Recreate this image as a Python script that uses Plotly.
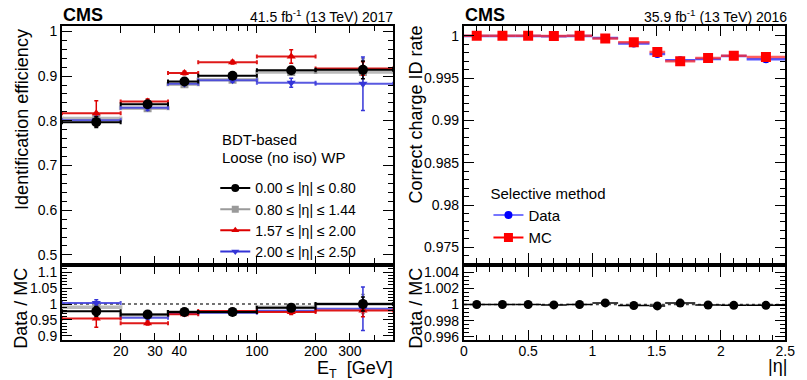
import math
import plotly.graph_objects as go

# ---------------- data ----------------
et_edges = [10, 20, 35, 50, 100, 200, 500]
et_centers = [15, 27.5, 42.5, 75, 150, 350]

eta_labels = ["0.00 ≤ |η| ≤ 0.80", "0.80 ≤ |η| ≤ 1.44",
              "1.57 ≤ |η| ≤ 2.00", "2.00 ≤ |η| ≤ 2.50"]

eff_eta1 = [0.797, 0.837, 0.888, 0.901, 0.913, 0.914]
eff_eta1_err = [0.012, 0.006, 0.004, 0.003, 0.005, 0.020]
eff_eta2 = [0.805, 0.828, 0.882, 0.892, 0.909, 0.909]
eff_eta2_err = [0.008, 0.005, 0.004, 0.004, 0.005, 0.030]
eff_eta3 = [0.817, 0.843, 0.907, 0.931, 0.944, 0.917]
eff_eta3_err = [0.028, 0.006, 0.004, 0.004, 0.015, 0.015]
eff_eta4 = [0.801, 0.829, 0.883, 0.891, 0.885, 0.883]
eff_eta4_err = [0.010, 0.006, 0.004, 0.005, 0.010, 0.060]

sf_eta1 = [0.977, 0.967, 0.975, 0.975, 0.988, 1.000]
sf_eta1_err = [0.015, 0.005, 0.004, 0.004, 0.006, 0.022]
sf_eta2 = [0.990, 0.966, 0.975, 0.975, 0.990, 1.000]
sf_eta2_err = [0.010, 0.005, 0.004, 0.004, 0.006, 0.030]
sf_eta3 = [0.955, 0.940, 0.968, 0.978, 0.975, 0.980]
sf_eta3_err = [0.028, 0.006, 0.005, 0.005, 0.008, 0.020]
sf_eta4 = [1.003, 0.957, 0.970, 0.973, 0.979, 0.985]
sf_eta4_err = [0.010, 0.006, 0.005, 0.006, 0.010, 0.068]

eta_edges = [0, 0.2, 0.4, 0.6, 0.8, 1.0, 1.2, 1.444, 1.566, 1.8, 2.0, 2.2, 2.5]
cid_mc = [1.0, 1.0, 1.0, 0.99998, 1.0, 0.99969, 0.99925, 0.99808, 0.99700,
          0.99737, 0.99764, 0.99749]
cid_data = [0.99998, 0.99998, 0.99998, 0.99994, 0.99997, 0.99975, 0.99910,
            0.99785, 0.99712, 0.99725, 0.99760, 0.99722]
cid_err = [0.00002, 0.00002, 0.00002, 0.00002, 0.00002, 0.00003, 0.00004,
           0.00008, 0.00006, 0.00005, 0.00005, 0.00005]
cid_ratio = [1.0, 1.0, 1.0, 0.99996, 1.0, 1.0002, 0.99988, 0.99983, 1.00018,
             0.99995, 0.9999, 0.9999]

# ---------------- helpers ----------------
FONT = "Liberation Sans, Arial, sans-serif"
W, H = 807, 380


def px_x(p):
    return p / W


def px_y(p):
    return 1 - p / H


et_lo = [c - lo for c, lo in zip(et_centers, et_edges[:-1])]
et_hi = [hi - c for c, hi in zip(et_centers, et_edges[1:])]
eta_centers = [(a + b) / 2 for a, b in zip(eta_edges[:-1], eta_edges[1:])]
eta_half = [(b - a) / 2 for a, b in zip(eta_edges[:-1], eta_edges[1:])]

fig = go.Figure()


def add_series(x, y, err, xlo, xhi, color, bincolor, thick, symbol, size,
               xa, ya):
    fig.add_trace(go.Scatter(
        x=x, y=y, mode="markers", xaxis=xa, yaxis=ya, showlegend=False,
        marker=dict(symbol=symbol, size=size, color=color),
        error_x=dict(type="data", symmetric=False, array=xhi, arrayminus=xlo,
                     color=bincolor, thickness=thick, width=2),
        error_y=dict(type="data", array=err, color=color, thickness=1.5,
                     width=2),
        hoverinfo="skip"))


series = [
    (eff_eta2, eff_eta2_err, sf_eta2, sf_eta2_err, "#9a9a9a",
     "rgba(140,140,140,0.6)", 3.5, "square", 8),
    (eff_eta4, eff_eta4_err, sf_eta4, sf_eta4_err, "#3535d8",
     "rgba(60,60,220,0.85)", 2, "triangle-down", 8),
    (eff_eta3, eff_eta3_err, sf_eta3, sf_eta3_err, "#dd0000",
     "rgba(220,0,0,0.9)", 2, "triangle-up", 8),
    (eff_eta1, eff_eta1_err, sf_eta1, sf_eta1_err, "black",
     "black", 2, "circle", 10),
]
for eff, eerr, sf, serr, col, bcol, th, sym, sz in series:
    add_series(et_centers, eff, eerr, et_lo, et_hi, col, bcol, th, sym, sz,
               "x", "y")
    add_series(et_centers, sf, serr, et_lo, et_hi, col, bcol, th, sym, sz,
               "x2", "y2")

# legend entries (left)
leg_left = [
    (eta_labels[0], "black", "circle", 8),
    (eta_labels[1], "#9a9a9a", "square", 7),
    (eta_labels[2], "#dd0000", "triangle-up", 7),
    (eta_labels[3], "#3535d8", "triangle-down", 7),
]
for name, col, sym, sz in leg_left:
    fig.add_trace(go.Scatter(
        x=[None], y=[None], mode="lines+markers", name=name, xaxis="x",
        yaxis="y", legend="legend", line=dict(color=col, width=2),
        marker=dict(symbol=sym, size=sz, color=col)))

# right panel
fig.add_trace(go.Scatter(
    x=eta_centers, y=cid_data, mode="markers", xaxis="x3", yaxis="y3",
    showlegend=False, marker=dict(symbol="circle", size=8, color="#0000ff"),
    error_x=dict(type="data", array=eta_half, color="rgba(40,40,255,0.8)",
                 thickness=2.5, width=0),
    error_y=dict(type="data", array=cid_err, color="#0000ff", thickness=1.5,
                 width=0),
    hoverinfo="skip"))
fig.add_trace(go.Scatter(
    x=eta_centers, y=cid_mc, mode="markers", xaxis="x3", yaxis="y3",
    showlegend=False, marker=dict(symbol="square", size=10, color="#ff0000"),
    error_x=dict(type="data", array=eta_half, color="rgba(255,40,40,0.75)",
                 thickness=2.5, width=0),
    error_y=dict(type="data", array=cid_err, color="#ff0000", thickness=1.5,
                 width=0),
    hoverinfo="skip"))
fig.add_trace(go.Scatter(
    x=eta_centers, y=cid_ratio, mode="markers", xaxis="x4", yaxis="y4",
    showlegend=False, marker=dict(symbol="circle", size=9, color="black"),
    error_x=dict(type="data", array=eta_half, color="black", thickness=1.5,
                 width=0),
    hoverinfo="skip"))

fig.add_trace(go.Scatter(
    x=[None], y=[None], mode="lines+markers", name="Data", xaxis="x3",
    yaxis="y3", legend="legend2", line=dict(color="rgba(60,60,255,0.7)", width=2),
    marker=dict(symbol="circle", size=8, color="#0000ff")))
fig.add_trace(go.Scatter(
    x=[None], y=[None], mode="lines+markers", name="MC", xaxis="x3",
    yaxis="y3", legend="legend2", line=dict(color="#ff0000", width=2),
    marker=dict(symbol="square", size=9, color="#ff0000")))

# ---------------- axes ----------------
LX = [px_x(59), px_x(396)]
RX = [px_x(468), px_x(795)]
TOPY = [px_y(266), px_y(24)]
BOTY = [px_y(344), px_y(270)]

common = dict(showline=True, linewidth=2, linecolor="black", mirror="allticks",
              ticks="inside", tickcolor="black", tickwidth=1, showgrid=False,
              zeroline=False, tickfont=dict(family=FONT, size=14, color="black"))

et_major = [20, 30, 40, 100, 200, 300]
et_minor = [50, 60, 70, 80, 90, 400]
xlog = dict(type="log", range=[1, math.log10(500)], tickmode="array",
            tickvals=et_major, ticktext=[str(v) for v in et_major], ticklen=7,
            minor=dict(tickmode="array", tickvals=et_minor, ticks="inside",
                       ticklen=5, tickcolor="black"))

eff_ticks = [0.5, 0.6, 0.7, 0.8, 0.9, 1.0]
sf_ticks = [0.9, 0.95, 1.0, 1.05, 1.1]
cid_ticks = [0.975, 0.98, 0.985, 0.99, 0.995, 1.0]
cr_ticks = [0.996, 0.998, 1.0, 1.002, 1.004]

fig.update_layout(
    xaxis=dict(**common, **xlog, domain=LX, anchor="y", showticklabels=False),
    yaxis=dict(**common, domain=TOPY, anchor="x", range=[0.481, 1.011],
               tickmode="array", tickvals=eff_ticks,
               ticktext=["0.5", "0.6", "0.7", "0.8", "0.9", "1"], ticklen=10,
               minor=dict(dtick=0.02, ticks="inside", ticklen=5,
                          tickcolor="black")),
    xaxis2=dict(**common, **xlog, domain=LX, anchor="y2",
                ticklabelstandoff=-3),
    yaxis2=dict(**common, domain=BOTY, anchor="x2", range=[0.888, 1.115],
                tickmode="array", tickvals=sf_ticks,
                ticktext=["0.9", "0.95", "1", "1.05", "1.1"], ticklen=10,
                minor=dict(dtick=0.01, ticks="inside", ticklen=5,
                           tickcolor="black")),
    xaxis3=dict(**common, domain=RX, anchor="y3", range=[0, 2.5], dtick=0.5,
                ticklen=10, showticklabels=False,
                minor=dict(dtick=0.1, ticks="inside", ticklen=5,
                           tickcolor="black")),
    yaxis3=dict(**common, domain=TOPY, anchor="x3", range=[0.9731, 1.0011],
                tickmode="array", tickvals=cid_ticks,
                ticktext=["0.975", "0.98", "0.985", "0.99", "0.995", "1"],
                ticklen=10,
                minor=dict(dtick=0.001, ticks="inside", ticklen=5,
                           tickcolor="black")),
    xaxis4=dict(**common, domain=RX, anchor="y4", range=[0, 2.5], dtick=0.5,
                ticklen=10, tickvals=[0, 0.5, 1, 1.5, 2, 2.5],
                ticktext=["0", "0.5", "1", "1.5", "2", "2.5"],
                ticklabelstandoff=-3,
                minor=dict(dtick=0.1, ticks="inside", ticklen=5,
                           tickcolor="black")),
    yaxis4=dict(**common, domain=BOTY, anchor="x4", range=[0.99565, 1.0046],
                tickmode="array", tickvals=cr_ticks,
                ticktext=["0.996", "0.998", "1", "1.002", "1.004"],
                ticklen=10,
                minor=dict(dtick=0.0005, ticks="inside", ticklen=5,
                           tickcolor="black")),
)

# reference lines at unity in ratio panels
for xr, yr in (("x2", "y2"), ("x4", "y4")):
    fig.add_shape(type="line", xref=f"{xr} domain", yref=yr, x0=0, x1=1,
                  y0=1, y1=1, line=dict(color="#444444", width=1.5, dash="dot"),
                  layer="below")

# ---------------- text ----------------
ann = []


def text(x, y, s, size, xanchor="left", yanchor="middle", angle=0, bold=False):
    if bold:
        s = f"<b>{s}</b>"
    ann.append(dict(x=px_x(x), y=px_y(y), xref="paper", yref="paper", text=s,
                    showarrow=False, xanchor=xanchor, yanchor=yanchor,
                    textangle=angle, font=dict(family=FONT, size=size,
                                               color="black")))


text(58, 12.5, "CMS", 18, bold=True)
text(467, 12.5, "CMS", 18, bold=True)
text(398, 13, "41.5 fb<sup>-1</sup> (13 TeV) 2017", 14, xanchor="right")
text(799, 13, "35.9 fb<sup>-1</sup> (13 TeV) 2016", 14, xanchor="right")
text(6, 24, "Identification efficiency", 18, yanchor="top", angle=-90)
text(407, 21, "Correct charge ID rate", 18, yanchor="top", angle=-90)
text(5, 268, "Data / MC", 18, yanchor="top", angle=-90)
text(407, 268, "Data / MC", 18, yanchor="top", angle=-90)
text(398, 388, "E<sub>T</sub>  [GeV]", 18, xanchor="right", yanchor="bottom")
text(799, 383, "|η|", 18, xanchor="right", yanchor="bottom")
text(220, 139, "BDT-based", 15)
text(220, 158, "Loose (no iso) WP", 15)

fig.update_layout(
    width=W, height=H, margin=dict(l=0, r=0, t=0, b=0),
    paper_bgcolor="white", plot_bgcolor="white",
    font=dict(family=FONT, size=15, color="black"),
    annotations=ann,
    legend=dict(x=px_x(215), y=px_y(173), xanchor="left", yanchor="top",
                bgcolor="rgba(0,0,0,0)", borderwidth=0,
                font=dict(family=FONT, size=14), tracegroupgap=0),
    legend2=dict(x=px_x(493), y=px_y(180), xanchor="left", yanchor="top",
                 bgcolor="rgba(0,0,0,0)", borderwidth=0,
                 font=dict(family=FONT, size=15),
                 title=dict(text="Selective method",
                            font=dict(family=FONT, size=15))),
)

fig.write_html("out.html")
